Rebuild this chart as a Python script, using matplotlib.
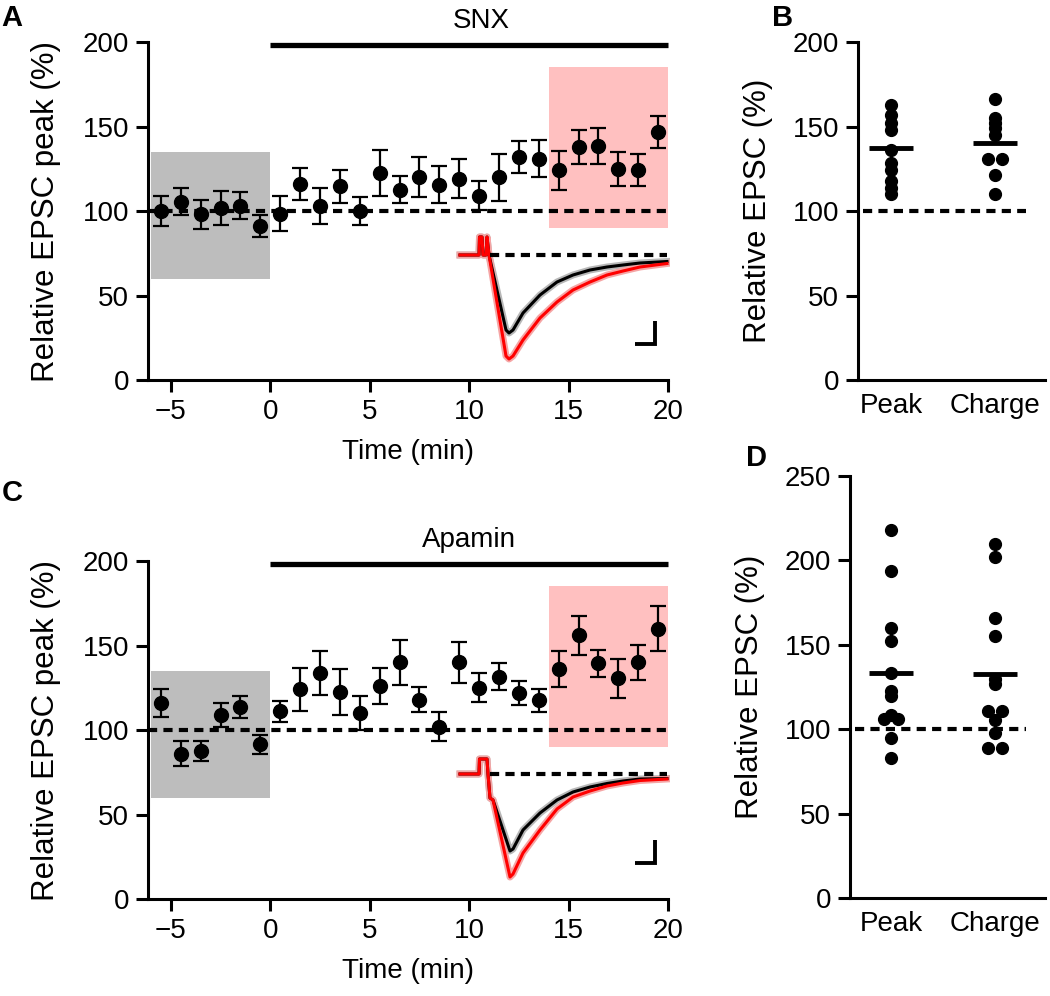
import matplotlib
matplotlib.use('Agg')
import matplotlib.pyplot as plt

plt.rcParams['font.family'] = ['Liberation Sans', 'DejaVu Sans']

# ---------------- data ----------------
time_min = [-5.5, -4.5, -3.5, -2.5, -1.5, -0.5, 0.5, 1.5, 2.5, 3.5, 4.5, 5.5, 6.5,
            7.5, 8.5, 9.5, 10.5, 11.5, 12.5, 13.5, 14.5, 15.5, 16.5, 17.5, 18.5, 19.5]
snx_mean = [100, 105.5, 98, 102, 103, 91, 98.5, 116, 103, 114.5, 100, 122.5, 112.5,
            120, 115.5, 119, 109, 120, 132, 131, 124, 138, 138.5, 125, 124, 147]
snx_sem = [9, 8, 8.5, 10, 8, 6.5, 10.5, 9.5, 10.5, 9.5, 8.5, 13.5, 8,
           12, 11, 11.5, 8.5, 14, 9.5, 11, 11.5, 10, 10.5, 10, 9.5, 9.5]
apa_mean = [116, 86, 87.5, 109, 113.5, 91.5, 111, 124, 133.5, 122.5, 110, 126, 140,
            118, 102, 140, 125, 131.5, 122, 117.5, 136, 156, 139.5, 130.5, 140, 160]
apa_sem = [8.5, 7.5, 6, 7, 6.5, 5.5, 6, 12.5, 13, 13.5, 10, 10.5, 13.5,
           7.5, 8.5, 12, 8.5, 8, 7, 7, 10.5, 11.5, 8, 11.5, 10.5, 13.5]

categories = ['Peak', 'Charge']
snx_peak = [163, 157, 152, 148, 136, 128.5, 124, 117.5, 113.5, 110]
snx_charge = [166, 155, 152, 149, 145, 130.5, 130.5, 121.5, 110]
snx_group_means = [137, 140]
apa_peak = [218, 193.5, 160, 152.5, 133.5, 122.5, 119.5, 108.5, 106, 106, 95, 83]
apa_charge = [210, 202, 166, 155, 129.5, 126.5, 110.5, 110.5, 105.5, 98, 89, 89]
apa_group_means = [133.5, 132.5]

baseline_window = [-6, 0, 60, 135]     # x0, x1, y0, y1
drug_window = [14, 20, 90, 185]
drug_period = [0, 20]

# EPSC traces (x: time in px units, y: deflection from baseline)
trace_a_x = [5, 24, 24.5, 27, 28, 31, 32, 34, 51, 54, 58, 68, 85, 102, 118, 135, 152, 168, 185, 212]
trace_a_ctrl = [0, 0, 18, 18, 0, 0, 18, 0, -75, -78, -75, -58, -40, -27, -20, -15, -12, -10, -8, -6.5]
trace_a_drug = [0, 0, 18, 18, 0, 0, 18, 0, -101, -104, -101, -85, -63, -47, -35, -27, -20, -16, -12, -8.5]
trace_c_x = [5, 24, 24.5, 32, 33, 35, 38, 55, 58, 68, 85, 102, 118, 135, 152, 168, 185, 212]
trace_c_ctrl = [0, 0, 15, 15, 0, -24, -26, -77, -75, -56, -39, -26, -18, -13, -9.5, -7, -5, -4.5]
trace_c_drug = [0, 0, 15, 15, 0, -24, -26, -103, -100, -79, -56, -35, -23, -17, -12, -9, -6.5, -5]

# ---------------- layout helpers ----------------
W, H = 1050, 996
fig = plt.figure(figsize=(W / 100, H / 100), dpi=100)


def add_ax(l, t, r, b):
    return fig.add_axes([l / W, 1 - b / H, (r - l) / W, (b - t) / H])


LW = 2.2
FS = 20
FSL = 22.5


def style(ax):
    for s in ['top', 'right']:
        ax.spines[s].set_visible(False)
    for s in ['left', 'bottom']:
        ax.spines[s].set_linewidth(LW)
    ax.tick_params(direction='out', length=8.5, width=LW, labelsize=FS, pad=5)


def time_panel(ax, mean, sem, drug_name, label_x, trace_x, tr_ctrl, tr_drug, inset_box):
    style(ax)
    ax.set_xlim(-6.15, 20)
    ax.set_ylim(0, 200)
    ax.add_patch(plt.Rectangle((baseline_window[0], baseline_window[2]),
                               baseline_window[1] - baseline_window[0],
                               baseline_window[3] - baseline_window[2],
                               color='#bdbdbd', lw=0, zorder=0))
    ax.add_patch(plt.Rectangle((drug_window[0], drug_window[2]),
                               drug_window[1] - drug_window[0],
                               drug_window[3] - drug_window[2],
                               color='#ffc0c0', lw=0, zorder=0))
    ax.axhline(100, color='black', lw=3, ls=(0, (2.2, 1.5)), zorder=1)
    ax.errorbar(time_min, mean, yerr=sem, fmt='o', color='black', ms=10,
                elinewidth=1.6, capsize=5.5, capthick=1.6, zorder=3)
    ax.plot(drug_period, [198, 198], color='black', lw=3.8, clip_on=False,
            solid_capstyle='butt')
    ax.text(label_x, 205, drug_name, ha='center', va='bottom', fontsize=FS)
    ax.set_xticks([-5, 0, 5, 10, 15, 20])
    ax.set_yticks([0, 50, 100, 150, 200])
    ax.set_xlabel('Time (min)', fontsize=FS, labelpad=10)
    ax.set_ylabel('Relative EPSC peak (%)', fontsize=FSL, labelpad=16)

    ins = add_ax(*inset_box)
    ins.axis('off')
    ins.set_xlim(0, 215)
    ins.set_ylim(-112, 30)
    ins.plot(trace_x, tr_ctrl, color='#b8b8b8', lw=5, solid_joinstyle='round')
    ins.plot(trace_x, tr_drug, color='#f5a5a5', lw=5, solid_joinstyle='round')
    ins.plot(trace_x, tr_ctrl, color='black', lw=2.2)
    ins.plot(trace_x, tr_drug, color='#ff0000', lw=2.2)
    ins.plot([35, 212], [0, 0], color='black', lw=3, ls=(0, (2.2, 1.5)))
    # scale bar
    ins.plot([180, 200, 200], [-89, -89, -66], color='black', lw=2.8,
             solid_joinstyle='miter', solid_capstyle='butt')


def swarm_x(vals, center, thr=2.0, off=0.065):
    xs = []
    for i, v in enumerate(vals):
        same = [j for j, w in enumerate(vals) if abs(w - v) < thr]
        if len(same) > 1:
            k = same.index(i)
            xs.append(center + (k - (len(same) - 1) / 2) * 2 * off)
        else:
            xs.append(center)
    return xs


def dot_panel(ax, groups, means, ymax, yticks, spine_off):
    style(ax)
    ax.set_xlim(-spine_off, 1.48)
    ax.set_ylim(0, ymax)
    ax.set_yticks(yticks)
    ax.set_xticks([0, 1])
    ax.set_xticklabels(categories, fontsize=FS)
    ax.tick_params(axis='x', length=0, pad=9)
    ax.plot([-spine_off + 0.05, 1.3], [100, 100], color='black', lw=3,
            ls=(0, (2.2, 1.5)), zorder=1)
    for i, g in enumerate(groups):
        ax.plot(swarm_x(g, i), g, 'o', color='black', ms=8.5, zorder=3,
                clip_on=False)
        ax.plot([i - 0.21, i + 0.21], [means[i], means[i]], color='black',
                lw=3.5, zorder=4, solid_capstyle='butt')
    ax.set_ylabel('Relative EPSC (%)', fontsize=FSL, labelpad=14)


# ---------------- panels ----------------
axA = add_ax(148, 42, 668, 380)
time_panel(axA, snx_mean, snx_sem, 'SNX', 10.6, trace_a_x, trace_a_ctrl, trace_a_drug,
           (455, 225, 670, 367))
axC = add_ax(148, 561, 668, 899)
time_panel(axC, apa_mean, apa_sem, 'Apamin', 10.0, trace_c_x, trace_c_ctrl, trace_c_drug,
           (455, 744, 670, 886))

axB = add_ax(858, 42, 1045, 380)
dot_panel(axB, [snx_peak, snx_charge], snx_group_means, 200, [0, 50, 100, 150, 200],
          (891 - 858) / 104)
axD = add_ax(850, 476, 1045, 898)
dot_panel(axD, [apa_peak, apa_charge], apa_group_means, 250,
          [0, 50, 100, 150, 200, 250], (891 - 850) / 104)

for lbl, x, y in [('A', 12, 18), ('B', 783, 18), ('C', 12, 493), ('D', 757, 458)]:
    fig.text(x / W, 1 - y / H, lbl, fontsize=21, fontweight='bold',
             ha='center', va='center')

fig.savefig('out.png', dpi=100)
